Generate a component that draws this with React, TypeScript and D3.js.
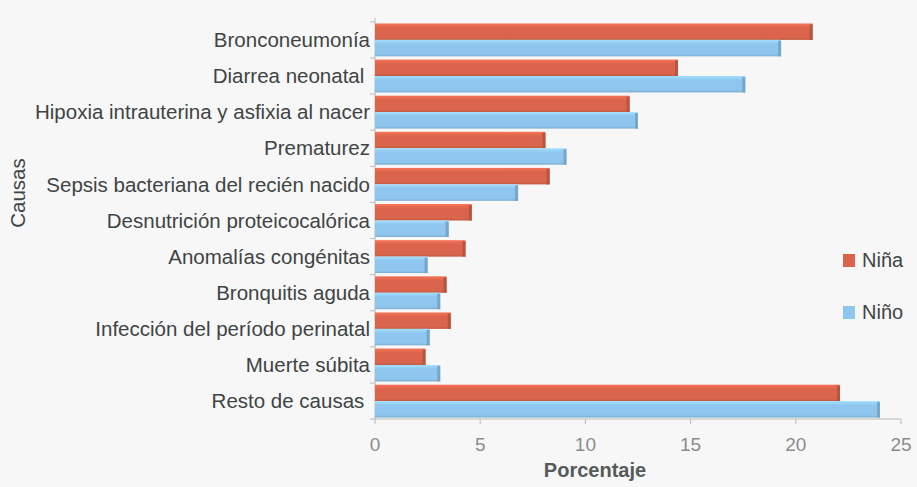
import * as d3 from "d3";

const causas = [
  "Bronconeumonía",
  "Diarrea neonatal ",
  "Hipoxia intrauterina y asfixia al nacer",
  "Prematurez",
  "Sepsis bacteriana del recién nacido",
  "Desnutrición proteicocalórica",
  "Anomalías congénitas",
  "Bronquitis aguda",
  "Infección del período perinatal",
  "Muerte súbita",
  "Resto de causas ",
];

const nina = [20.8, 14.4, 12.1, 8.1, 8.3, 4.6, 4.3, 3.4, 3.6, 2.4, 22.1];
const nino = [19.3, 17.6, 12.5, 9.1, 6.8, 3.5, 2.5, 3.1, 2.6, 3.1, 24.0];

const series = ["Niña", "Niño"];
const xTicks = [0, 5, 10, 15, 20, 25];

const colors: Record<string, string> = { "Niña": "#db654c", "Niño": "#8fc6ef" };

export default function App() {
  const width = 917;
  const height = 487;
  const margin = { left: 375, right: 16, top: 22, bottom: 68 };

  const x = d3.scaleLinear().domain([0, 25]).range([margin.left, width - margin.right]);
  const y = d3.scaleBand<string>()
    .domain(causas)
    .range([margin.top, height - margin.bottom])
    .paddingInner(0.09)
    .paddingOuter(0.04);
  const inner = d3.scaleBand<string>().domain(series).range([0, y.bandwidth()]);

  const values: Record<string, number[]> = { "Niña": nina, "Niño": nino };
  const axisY = height - margin.bottom;
  const textColor = "#3f4444";

  return (
    <svg
      width={width}
      height={height}
      style={{ position: "absolute", left: 0, top: 0, fontFamily: "'Liberation Sans', Arial, sans-serif" }}
    >
      <defs>
        {series.map((s, i) => (
          <linearGradient key={s} id={`grad${i}`} x1="0" y1="0" x2="0" y2="1">
            <stop offset="0" stopColor={d3.color(colors[s])!.brighter(0.35).formatHex()} />
            <stop offset="0.25" stopColor={colors[s]} />
            <stop offset="0.85" stopColor={colors[s]} />
            <stop offset="1" stopColor={d3.color(colors[s])!.darker(0.4).formatHex()} />
          </linearGradient>
        ))}
      </defs>
      <rect width={width} height={height} fill="#f6f7f6" />

      {/* axes */}
      <line x1={x(0)} x2={x(0)} y1={margin.top - 4} y2={axisY} stroke="#b9bcbc" />
      <line x1={x(0)} x2={x(25)} y1={axisY} y2={axisY} stroke="#b9bcbc" />
      {causas.map((c) => (
        <line key={c} x1={x(0) - 5} x2={x(0)} y1={y(c)! - (y.step() - y.bandwidth()) / 2} y2={y(c)! - (y.step() - y.bandwidth()) / 2} stroke="#b9bcbc" />
      ))}
      <line x1={x(0) - 5} x2={x(0)} y1={axisY} y2={axisY} stroke="#b9bcbc" />
      {xTicks.map((t) => (
        <g key={t}>
          <line x1={x(t)} x2={x(t)} y1={axisY} y2={axisY + 5} stroke="#b9bcbc" />
          <text x={x(t)} y={451} textAnchor="middle" fontSize={19} fill="#8a8d8d">{t}</text>
        </g>
      ))}

      {/* bars */}
      {causas.map((c, ci) => (
        <g key={c}>
          {series.map((s, si) => {
            const v = values[s][ci];
            const by = y(c)! + inner(s)!;
            const bh = inner.bandwidth();
            return (
              <g key={s}>
                <rect x={x(0)} y={by} width={x(v) - x(0)} height={bh} fill={`url(#grad${si})`} />
                <rect x={x(v) - 3} y={by + 1} width={3} height={bh - 1} fill={d3.color(colors[s])!.darker(0.5).formatHex()} />
              </g>
            );
          })}
          <text
            x={x(0) - 5}
            y={y(c)! + y.bandwidth() / 2}
            dy="0.35em"
            textAnchor="end"
            fontSize={20.5}
            fill={textColor}
            style={{ whiteSpace: "pre" }}
          >
            {c}
          </text>
        </g>
      ))}

      {/* axis titles */}
      <text x={595} y={477} textAnchor="middle" fontSize={20} fontWeight="bold" fill="#555a5a">Porcentaje</text>
      <text transform={`translate(25,193) rotate(-90)`} textAnchor="middle" fontSize={20.5} fill={textColor}>Causas</text>

      {/* legend */}
      {series.map((s, i) => (
        <g key={s} transform={`translate(843,${254 + i * 52})`}>
          <rect width={12} height={13} fill={colors[s]} />
          <text x={19} y={13} fontSize={20} fill={textColor}>{s}</text>
        </g>
      ))}
    </svg>
  );
}
